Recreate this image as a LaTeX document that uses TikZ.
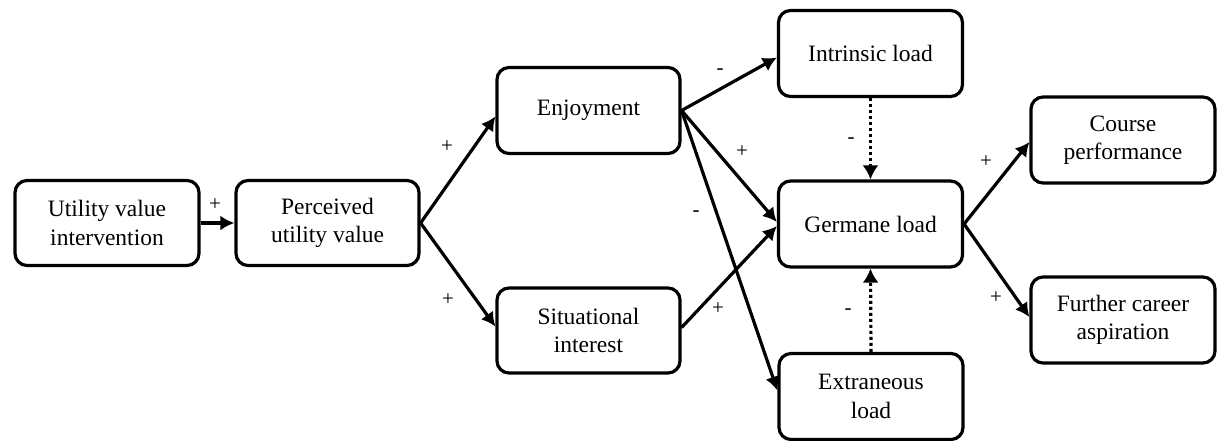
\documentclass[tikz,border=0pt]{standalone}
\usepackage{fontspec}
\setmainfont{Liberation Serif}
\usetikzlibrary{arrows.meta}
\begin{document}
\begin{tikzpicture}[x=1pt,y=-1pt,
  box/.style={draw,line width=3.2pt,rounded corners=12pt,align=center,inner sep=0pt,
    font=\fontsize{23.5}{28.5}\selectfont},
  link/.style={line width=3.2pt,-{Latex[length=14pt,width=15pt]}},
  dotlink/.style={line width=3.2pt,dash pattern=on 3pt off 3pt,-{Latex[length=14pt,width=16pt]}},
  sign/.style={font=\fontsize{21}{21}\selectfont,inner sep=0pt}]
\useasboundingbox (0,0) rectangle (1218,441);
\node[box,minimum width=184pt,minimum height=85pt] (uvi) at (107,223) {Utility value\\intervention};
\node[box,minimum width=183pt,minimum height=85pt] (puv) at (327.5,223) {Perceived\\utility value};
\node[box,minimum width=183pt,minimum height=86pt] (enj) at (588.5,110.5) {Enjoyment};
\node[box,minimum width=183pt,minimum height=85pt] (sit) at (588.5,330.5) {Situational\\interest};
\node[box,minimum width=184pt,minimum height=86pt] (intr) at (870.5,53.5) {Intrinsic load};
\node[box,minimum width=184pt,minimum height=86pt] (germ) at (870.5,224) {Germane load};
\node[box,minimum width=184pt,minimum height=86pt] (extr) at (871,396.5) {Extraneous\\load};
\node[box,minimum width=184pt,minimum height=86pt] (course) at (1123,140) {Course\\performance};
\node[box,minimum width=184pt,minimum height=86pt] (further) at (1123,320) {Further career\\aspiration};

\draw[link] (uvi.east) -- (puv.west);
\draw[link] (puv.east) -- ([yshift=-6pt]enj.west);
\draw[link] (puv.east) -- ([yshift=4pt]sit.west);
\draw[link] (enj.east) -- ([yshift=-4pt]intr.west);
\draw[link] (enj.east) -- ([yshift=2pt]germ.west);
\draw[link] (enj.east) -- ([yshift=6pt]extr.west);
\draw[link] ([yshift=3pt]sit.east) -- ([yshift=-2pt]germ.west);
\draw[dotlink] (intr.south) -- (germ.north);
\draw[dotlink] (extr.north) -- (germ.south);
\draw[link] (germ.east) -- ([yshift=-2pt]course.west);
\draw[link] (germ.east) -- ([yshift=3pt]further.west);

\node[sign] (s1) at (215,205) {+};
\node[sign] (s2) at (447,147) {+};
\node[sign] (s3) at (448,300) {+};
\node[sign] (s4) at (720,72) {-};
\node[sign] (s5) at (742,152) {+};
\node[sign] (s6) at (696,214) {-};
\node[sign] (s7) at (718,309) {+};
\node[sign] (s8) at (851,141) {-};
\node[sign] (s9) at (848,312) {-};
\node[sign] (s10) at (986,162) {+};
\node[sign] (s11) at (996,298) {+};
\end{tikzpicture}
\end{document}
